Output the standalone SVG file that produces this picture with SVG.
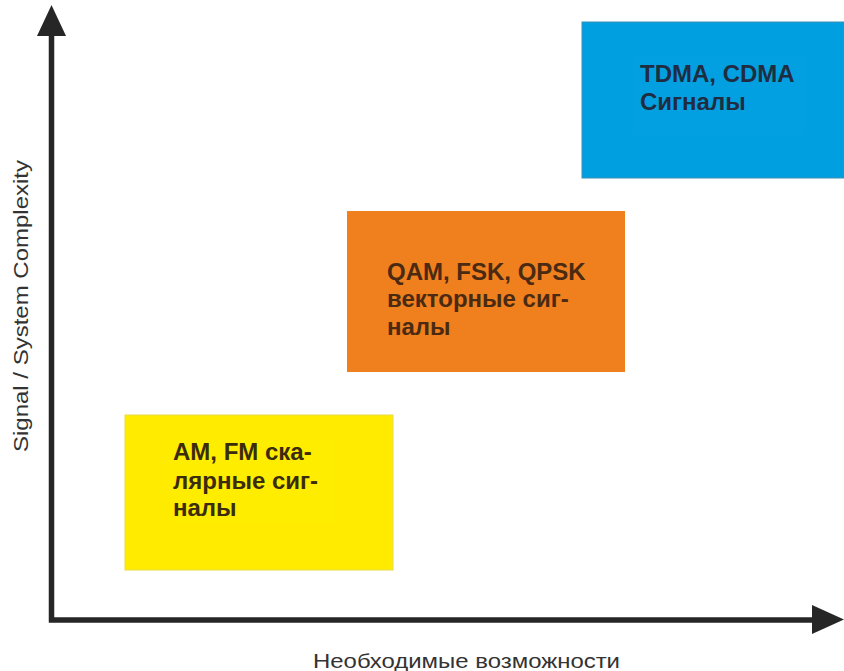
<svg xmlns="http://www.w3.org/2000/svg" width="844" height="671" viewBox="0 0 844 671">
  <style>
    .axis { stroke: #262626; stroke-width: 5.5; fill: none; }
    .head { fill: #262626; }
    .axis-label { font-family: "Liberation Sans", Arial, sans-serif; font-size: 21px; fill: #333333; }
    .box-text { font-family: "Liberation Sans", Arial, sans-serif; font-size: 24px; font-weight: bold; }
  </style>

  <rect x="0" y="0" width="844" height="671" fill="#ffffff"/>

  <!-- axes -->
  <g id="axes">
    <path class="axis" d="M51.5,32 L51.5,620 L815,620"/>
    <polygon class="head" points="51.5,5 37,36 66,36"/>
    <polygon class="head" points="844,619.5 812,605 812,634"/>
  </g>

  <!-- axis labels -->
  <g id="label-y">
    <text class="axis-label" transform="translate(28,452) rotate(-90)" textLength="292" lengthAdjust="spacingAndGlyphs">Signal / System Complexity</text>
  </g>
  <g id="label-x">
    <text class="axis-label" x="313" y="668" font-size="22" textLength="307" lengthAdjust="spacingAndGlyphs">Необходимые возможности</text>
  </g>

  <!-- AM / FM block -->
  <g id="node-scalar">
    <rect x="125" y="415" width="268" height="155" fill="#ffeb00" stroke="#e8dc4a" stroke-width="1"/>
    <rect x="170" y="440" width="165" height="82" fill="#fff000" opacity="0.5"/>
    <text class="box-text" fill="#3a2c0c">
      <tspan x="173" y="460">AM, FM ска-</tspan>
      <tspan x="173" y="489">лярные сиг-</tspan>
      <tspan x="173" y="516">налы</tspan>
    </text>
  </g>

  <!-- QAM / FSK / QPSK block -->
  <g id="node-vector">
    <rect x="347" y="211" width="278" height="161" fill="#f07f1e"/>
    <text class="box-text" fill="#4a2a12">
      <tspan x="387" y="280">QAM, FSK, QPSK</tspan>
      <tspan x="387" y="307">векторные сиг-</tspan>
      <tspan x="387" y="335">налы</tspan>
    </text>
  </g>

  <!-- TDMA / CDMA block -->
  <g id="node-multiple-access">
    <rect x="582" y="22" width="262" height="156" fill="#009fdf" stroke="#3b8fb8" stroke-width="1"/>
    <rect x="633" y="55" width="172" height="80" fill="#05a2e2" opacity="0.6"/>
    <text class="box-text" fill="#1e2d42">
      <tspan x="640" y="82">TDMA, CDMA</tspan>
      <tspan x="640" y="110">Сигналы</tspan>
    </text>
  </g>
</svg>
